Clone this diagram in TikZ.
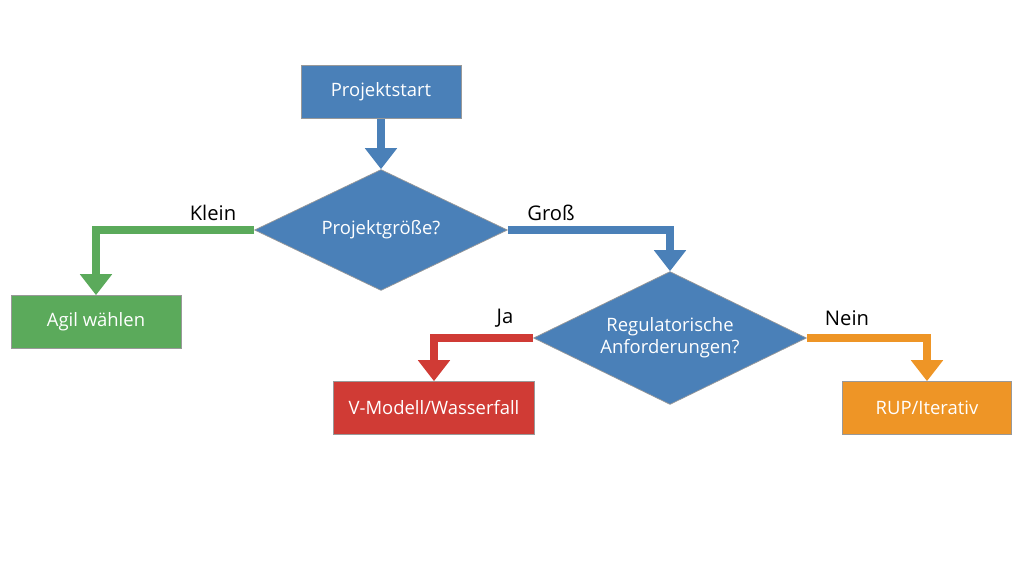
\documentclass[tikz,border=0pt]{standalone}
\usepackage{fontspec}
\setmainfont{Open Sans}
\usetikzlibrary{arrows.meta,shapes.geometric,positioning}
\definecolor{cblue}{HTML}{4A80B8}
\definecolor{cgreen}{HTML}{5BAA5B}
\definecolor{cred}{HTML}{D03B35}
\definecolor{corange}{HTML}{EE9526}
\tikzset{
  box/.style={draw=black!40, line width=0.4pt, text=white, minimum width=3.2cm, minimum height=1.06cm, inner sep=0pt, font=\fontsize{10.5}{12.5}\selectfont},
  dec/.style={diamond, aspect=2, draw=black!40, line width=0.4pt, fill=cblue, text=white, inner sep=0pt, align=center, font=\fontsize{10.5}{12.5}\selectfont},
  flow/.style={line width=4.5pt, -{Triangle[length=0.42cm, width=0.62cm]}},
  lbl/.style={font=\fontsize{11.5}{13}\selectfont}
}
\begin{document}
\begin{tikzpicture}[x=0.02cm, y=-0.02cm]
  \useasboundingbox (0,0) rectangle (1024,572);

  % nodes
  \node[box, fill=cblue] (start) at (381,92) {Projektstart};
  \node[dec, minimum width=5.06cm, minimum height=2.42cm] (size) at (381,230) {Projektgröße?};
  \node[box, fill=cgreen, minimum width=3.4cm] (agile) at (96,322) {Agil wählen};
  \node[dec, minimum width=5.46cm, minimum height=2.66cm] (reg) at (670,338) {Regulatorische\\Anforderungen?};
  \node[box, fill=cred, minimum width=4.02cm] (vmod) at (434,408) {V-Modell/Wasserfall};
  \node[box, fill=corange, minimum width=3.38cm] (rup) at (927,408) {RUP/Iterativ};

  % connectors
  \draw[flow, cblue] (start) -- (size);
  \draw[flow, cgreen] (size.west) -| (agile.north);
  \draw[flow, cblue] (size.east) -| (reg.north);
  \draw[flow, cred] (reg.west) -| (vmod.north);
  \draw[flow, corange] (reg.east) -| (rup.north);

  % labels
  \node[lbl] (lklein) at (213,213) {Klein};
  \node[lbl] (lgross) at (551,213) {Groß};
  \node[lbl] (lja) at (505,318) {Ja};
  \node[lbl] (lnein) at (847,318) {Nein};
\end{tikzpicture}
\end{document}
